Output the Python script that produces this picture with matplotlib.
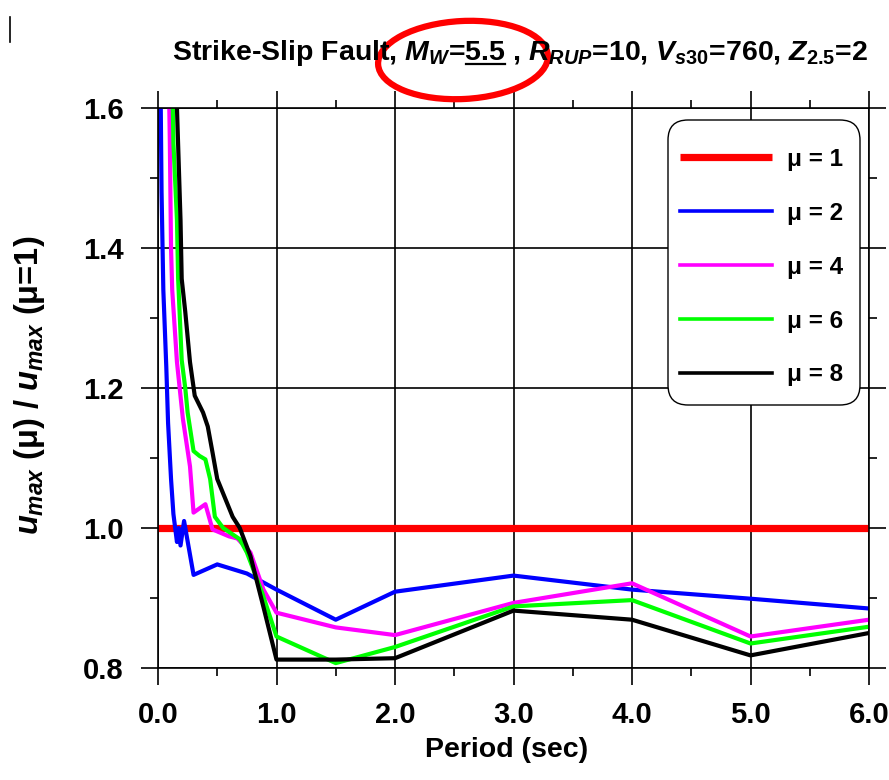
import matplotlib
matplotlib.use("Agg")
import matplotlib.pyplot as plt
from matplotlib.patches import Ellipse, FancyBboxPatch
from matplotlib.lines import Line2D
from matplotlib.ticker import MultipleLocator, FormatStrFormatter

plt.rcParams['font.family'] = ['Liberation Sans', 'DejaVu Sans']
plt.rcParams['font.weight'] = 'bold'
plt.rcParams['axes.labelweight'] = 'bold'
plt.rcParams['mathtext.fontset'] = 'custom'
plt.rcParams['mathtext.it'] = 'Liberation Sans:italic:bold'
plt.rcParams['mathtext.rm'] = 'Liberation Sans:bold'
plt.rcParams['mathtext.bf'] = 'Liberation Sans:bold'

# data
t_mu1 = [0.0, 6.0]
v_mu1 = [1.0, 1.0]

t_mu2 = [0.02, 0.03, 0.045, 0.07, 0.085, 0.11, 0.13, 0.16, 0.175, 0.19, 0.22, 0.3, 0.5, 0.75, 1.0, 1.5, 2.0, 3.0, 4.0, 5.0, 6.0]
v_mu2 = [1.66, 1.48, 1.34, 1.23, 1.15, 1.07, 1.02, 0.98, 1.0, 0.975, 1.01, 0.933, 0.948, 0.935, 0.912, 0.869, 0.909, 0.932, 0.912, 0.899, 0.885]

t_mu4 = [0.09, 0.1, 0.11, 0.12, 0.16, 0.21, 0.27, 0.3, 0.4, 0.46, 0.6, 0.67, 0.78, 0.89, 1.0, 1.5, 2.0, 3.0, 4.0, 5.0, 6.0]
v_mu4 = [1.66, 1.55, 1.40, 1.34, 1.237, 1.156, 1.088, 1.022, 1.034, 0.998, 0.988, 0.985, 0.965, 0.912, 0.879, 0.858, 0.847, 0.893, 0.921, 0.845, 0.869]

t_mu6 = [0.12, 0.13, 0.16, 0.17, 0.2, 0.23, 0.25, 0.3, 0.35, 0.4, 0.44, 0.48, 0.55, 0.69, 0.75, 0.88, 1.0, 1.5, 2.0, 3.0, 4.0, 5.0, 6.0]
v_mu6 = [1.66, 1.55, 1.44, 1.356, 1.24, 1.20, 1.165, 1.11, 1.103, 1.098, 1.07, 1.016, 1.0, 0.984, 0.965, 0.907, 0.845, 0.807, 0.83, 0.888, 0.897, 0.835, 0.859]

t_mu8 = [0.14, 0.16, 0.19, 0.2, 0.23, 0.27, 0.31, 0.38, 0.42, 0.46, 0.5, 0.63, 0.69, 0.78, 0.89, 1.0, 1.5, 2.0, 3.0, 4.0, 5.0, 6.0]
v_mu8 = [1.66, 1.60, 1.44, 1.356, 1.309, 1.237, 1.189, 1.165, 1.145, 1.108, 1.07, 1.016, 1.0, 0.96, 0.887, 0.812, 0.812, 0.814, 0.882, 0.869, 0.818, 0.85]

labels = ['\u03bc = 1', '\u03bc = 2', '\u03bc = 4', '\u03bc = 6', '\u03bc = 8']
colors = ['#ff0000', '#0000ff', '#ff00ff', '#00ff00', '#000000']

fig = plt.figure(figsize=(8.89, 7.8), dpi=100)
ax = fig.add_axes([158/889, 1-668/780, 711/889, 560/780])

ax.plot(t_mu1, v_mu1, color=colors[0], lw=5.2, label=labels[0], solid_capstyle='butt')
ax.plot(t_mu2, v_mu2, color=colors[1], lw=3.0, label=labels[1])
ax.plot(t_mu4, v_mu4, color=colors[2], lw=3.0, label=labels[2])
ax.plot(t_mu6, v_mu6, color=colors[3], lw=3.0, label=labels[3])
ax.plot(t_mu8, v_mu8, color=colors[4], lw=3.0, label=labels[4])

ax.set_xlim(0, 6)
ax.set_ylim(0.8, 1.6)
ax.xaxis.set_major_locator(MultipleLocator(1.0))
ax.xaxis.set_minor_locator(MultipleLocator(0.5))
ax.yaxis.set_major_locator(MultipleLocator(0.2))
ax.yaxis.set_minor_locator(MultipleLocator(0.1))
ax.xaxis.set_major_formatter(FormatStrFormatter('%.1f'))
ax.yaxis.set_major_formatter(FormatStrFormatter('%.1f'))
ax.grid(True, which='major', color='black', lw=1.2)
ax.tick_params(which='both', direction='out', top=True, right=True, width=1.2, labelsize=21)
ax.tick_params(which='major', length=12)
ax.tick_params(which='minor', length=6)
ax.tick_params(axis='x', pad=12)
ax.tick_params(axis='y', pad=13)
for s in ax.spines.values():
    s.set_linewidth(1.2)

ax.set_xlabel('Period (sec)', fontsize=20.5)
ax.xaxis.set_label_coords(0.49, -0.146)
ax.xaxis.label.set_va('center')
ax.set_ylabel('$u_{max}$ (\u03bc) / $u_{max}$ (\u03bc=1)', fontsize=23.5)
ax.yaxis.set_label_coords(-0.181, 0.505)
ax.yaxis.label.set_va('center')

# legend frame drawn by hand so it can be taller than the padding allows
frame = FancyBboxPatch((668, 780-405), 192, 285, boxstyle='round,pad=0,rounding_size=20',
                       transform=None, facecolor='white', edgecolor='black', lw=1.0, zorder=4)
ax.add_patch(frame)
leg = ax.legend(loc='upper left', bbox_to_anchor=((680-158)/711, (668-148)/560), borderaxespad=0,
                fontsize=17.5, handlelength=3.8, labelspacing=1.27, handletextpad=0.62,
                borderpad=0, frameon=False)
leg.set_zorder(5)
for h in leg.legend_handles[1:]:
    h.set_linewidth(2.6)

title = r'Strike-Slip Fault, $M_W$=5.5 , $R_{RUP}$=10, $V_{s30}$=760, $Z_{2.5}$=2'
tfs = 20.5
ty = 1 - 60/780
tt = fig.text(172/889, ty, title, fontsize=tfs, ha='left', va='baseline')

# underline under 5.5
fig.canvas.draw()
r = fig.canvas.get_renderer()
tmp = fig.text(172/889, ty, r'Strike-Slip Fault, $M_W$=', fontsize=tfs, ha='left', va='baseline')
w0 = tmp.get_window_extent(r).width
tmp.set_text('5.5')
w1 = tmp.get_window_extent(r).width
tmp.remove()
x0 = 172 + w0
fig.add_artist(Line2D([(x0+1)/889, (x0+w1)/889], [ty-4/780, ty-4/780], color='black', lw=1.6))

fig.add_artist(Ellipse((463, 780-60), 170, 78, angle=3, fill=False, edgecolor='#ff0000',
                       lw=4.5, transform=None))
fig.add_artist(Line2D([10/889, 10/889], [1-17/780, 1-42/780], color='black', lw=1.2))

fig.savefig('out.png', dpi=100)
